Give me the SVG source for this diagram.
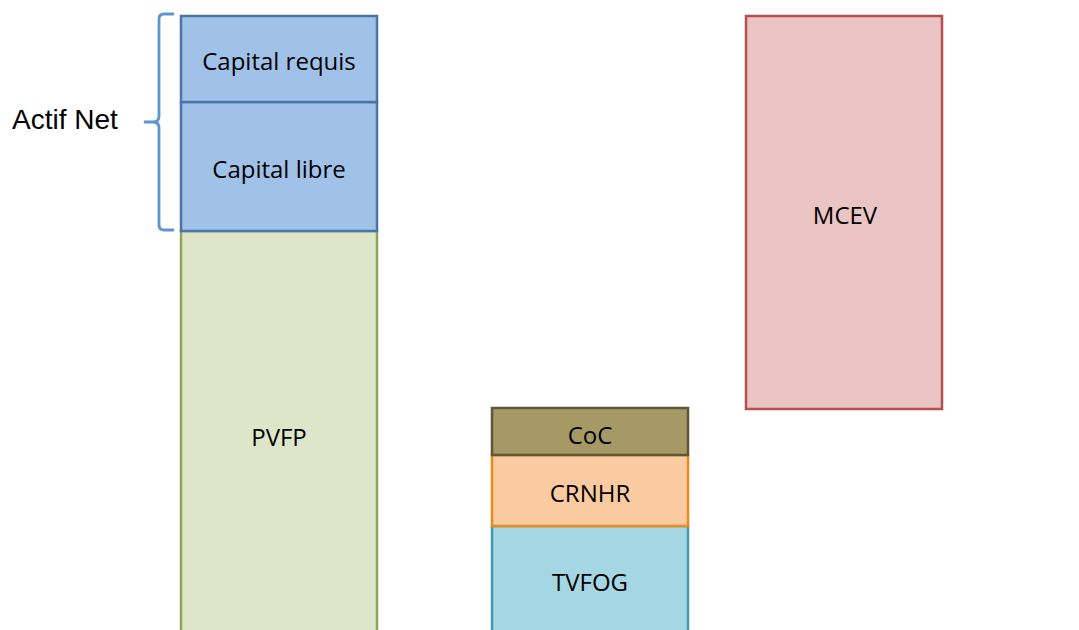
<svg xmlns="http://www.w3.org/2000/svg" width="1079" height="630" viewBox="0 0 1079 630">
  <style>
    .lbl { font-family: "Open Sans", "Noto Sans", "Liberation Sans", sans-serif; font-size: 24px; fill: #000; text-anchor: middle; }
    .side { font-family: "Liberation Sans", Arial, sans-serif; font-size: 28px; fill: #000; }
    .box { stroke-width: 2.5; }
  </style>
  <rect width="1079" height="630" fill="#ffffff"/>

  <!-- brace grouping the net-asset blocks -->
  <g id="brace">
    <path d="M173,14 L164,14 Q159,14 159,19 L159,116 Q159,122 153,122 L145,122 M153,122 Q159,122 159,128 L159,225 Q159,230 164,230 L173,230" fill="none" stroke="#5F95CF" stroke-width="2.8" stroke-linecap="round"/>
    <text class="side" x="12" y="129">Actif Net</text>
  </g>

  <!-- left stack -->
  <g id="pvfp">
    <rect class="box" x="181" y="231" width="196" height="410" fill="#DEE6C9" stroke="#8CA55A"/>
    <text class="lbl" x="279" y="446">PVFP</text>
  </g>
  <g id="capital-libre">
    <rect class="box" x="181" y="102" width="196" height="129" fill="#A0C2E9" stroke="#4A74A4"/>
    <text class="lbl" x="279" y="178">Capital libre</text>
  </g>
  <g id="capital-requis">
    <rect class="box" x="181" y="16" width="196" height="86" fill="#A0C2E9" stroke="#4A74A4"/>
    <text class="lbl" x="279" y="70">Capital requis</text>
  </g>

  <!-- middle stack -->
  <g id="tvfog">
    <rect class="box" x="492" y="526" width="196" height="115" fill="#A5D6E3" stroke="#3E9BAF"/>
    <text class="lbl" x="590" y="591">TVFOG</text>
  </g>
  <g id="crnhr">
    <rect class="box" x="492" y="455" width="196" height="71" fill="#FACBA1" stroke="#EE8A1A"/>
    <text class="lbl" x="590" y="502">CRNHR</text>
  </g>
  <g id="coc">
    <rect class="box" x="492" y="408" width="196" height="47" fill="#A69966" stroke="#5F5639"/>
    <text class="lbl" x="590" y="444">CoC</text>
  </g>

  <!-- right block -->
  <g id="mcev">
    <rect class="box" x="746" y="16" width="196" height="393" fill="#EBC4C4" stroke="#B4504E"/>
    <text class="lbl" x="845" y="224">MCEV</text>
  </g>

  <g id="connectors"></g>
</svg>
